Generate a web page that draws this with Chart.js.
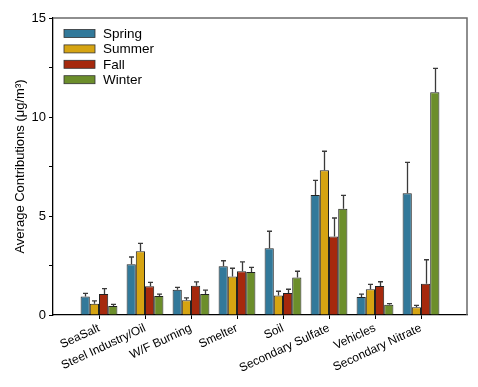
<!DOCTYPE html>
<html>
<head>
<meta charset="utf-8">
<script src="https://cdn.jsdelivr.net/npm/chart.js@4.4.1/dist/chart.umd.min.js"></script>
<style>
html,body{margin:0;padding:0;background:#fff;}
#wrap{width:478px;height:387px;position:relative;}
</style>
</head>
<body>
<div id="wrap"><canvas id="c" width="478" height="387"></canvas></div>
<script>
const categories = ['SeaSalt','Steel Industry/Oil','W/F Burning','Smelter','Soil','Secondary Sulfate','Vehicles','Secondary Nitrate'];
const seriesNames = ['Spring','Summer','Fall','Winter'];
const spring    = [0.94, 2.56, 1.28, 2.46, 3.37, 6.06, 0.91, 6.15];
const springErr = [0.15, 0.37, 0.12, 0.28, 0.86, 0.74, 0.14, 1.56];
const summer    = [0.57, 3.22, 0.74, 1.95, 0.99, 7.31, 1.30, 0.39];
const summerErr = [0.14, 0.40, 0.12, 0.41, 0.21, 0.96, 0.25, 0.10];
const fall      = [1.06, 1.45, 1.48, 2.21, 1.11, 3.96, 1.46, 1.58];
const fallErr   = [0.27, 0.20, 0.19, 0.47, 0.19, 0.94, 0.22, 1.21];
const winter    = [0.45, 0.96, 1.06, 2.17, 1.89, 5.37, 0.52, 11.25];
const winterErr = [0.09, 0.09, 0.20, 0.24, 0.32, 0.67, 0.05, 1.21];
const yTicks = [0, 5, 10, 15];

const colors = ['#32799A', '#D6A412', '#A6290D', '#6C8E2B'];
const values = [spring, summer, fall, winter];
const errors = [springErr, summerErr, fallErr, winterErr];

const labels = [''].concat(categories, ['']);
const pad = arr => [null].concat(arr, [null]);

const errorBars = {
  id: 'errorBars',
  afterDatasetsDraw(chart) {
    const ctx = chart.ctx;
    const y = chart.scales.y;
    ctx.save();
    ctx.strokeStyle = '#3a3a3a';
    ctx.lineWidth = 1.3;
    chart.data.datasets.forEach((ds, i) => {
      const meta = chart.getDatasetMeta(i);
      const err = errors[i];
      meta.data.forEach((bar, j) => {
        const v = ds.data[j];
        if (v == null) return;
        const e = err[j - 1];
        const x = Math.round(bar.x) + 0.5;
        const y0 = y.getPixelForValue(v);
        const y1 = y.getPixelForValue(v + e);
        ctx.beginPath();
        ctx.moveTo(x, y0);
        ctx.lineTo(x, y1);
        ctx.moveTo(x - 2.5, y1);
        ctx.lineTo(x + 2.5, y1);
        ctx.stroke();
      });
    });
    ctx.restore();
  }
};

const frameLegend = {
  id: 'frameLegend',
  afterDraw(chart) {
    const ctx = chart.ctx;
    const a = chart.chartArea;
    ctx.save();
    ctx.strokeStyle = '#6a6a6a';
    ctx.lineWidth = 1.5;
    ctx.beginPath();
    ctx.moveTo(a.left, a.top);
    ctx.lineTo(a.right, a.top);
    ctx.lineTo(a.right, a.bottom);
    ctx.stroke();
    // legend
    ctx.font = '13.5px "Liberation Sans", Arial, sans-serif';
    ctx.textBaseline = 'middle';
    ctx.textAlign = 'left';
    seriesNames.forEach((n, i) => {
      const cy = a.top + 15.5 + i * 15.4;
      ctx.fillStyle = colors[i];
      ctx.fillRect(a.left + 11, cy - 4, 31, 8);
      ctx.strokeStyle = '#333';
      ctx.lineWidth = 0.8;
      ctx.strokeRect(a.left + 11, cy - 4, 31, 8);
      ctx.fillStyle = '#000';
      ctx.fillText(n, a.left + 50, cy + 0.5);
    });
    ctx.restore();
  }
};

new Chart(document.getElementById('c'), {
  type: 'bar',
  data: {
    labels: labels,
    datasets: seriesNames.map((n, i) => ({
      label: n,
      data: pad(values[i]),
      backgroundColor: colors[i],
      borderColor: '#222',
      borderWidth: 1,
      categoryPercentage: 0.8,
      barPercentage: 1.0
    }))
  },
  options: {
    responsive: false,
    animation: false,
    layout: { padding: { top: 18, right: 11, left: 0, bottom: 0 } },
    plugins: { legend: { display: false }, tooltip: { enabled: false } },
    scales: {
      x: {
        offset: false,
        grid: {
          offset: false,
          drawOnChartArea: false,
          tickLength: 4,
          tickColor: c => (c.index === 0 || c.index === labels.length - 1) ? 'rgba(0,0,0,0)' : '#000'
        },
        border: { color: '#000', width: 1.3 },
        ticks: {
          autoSkip: false,
          minRotation: 25,
          maxRotation: 25,
          color: '#000',
          padding: 2,
          font: { family: '"Liberation Sans", Arial, sans-serif', size: 12 }
        },
        afterFit: s => { s.height = 72; }
      },
      y: {
        min: 0,
        max: 15,
        grid: { drawOnChartArea: false, tickLength: 4, tickColor: '#000' },
        border: { color: '#000', width: 1.3 },
        ticks: {
          stepSize: 2.5,
          color: '#000',
          padding: 3,
          font: { family: '"Liberation Sans", Arial, sans-serif', size: 13 },
          callback: v => yTicks.includes(v) ? String(v) : ''
        },
        title: {
          display: true,
          text: 'Average Contributions (μg/m³)',
          color: '#000',
          padding: { top: 13, bottom: 0 },
          font: { family: '"Liberation Sans", Arial, sans-serif', size: 13 }
        },
        afterFit: s => { s.width = 53; }
      }
    }
  },
  plugins: [errorBars, frameLegend]
});
</script>
</body>
</html>
